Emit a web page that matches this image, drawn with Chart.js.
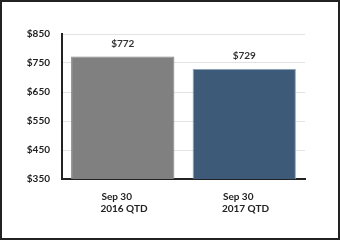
<!DOCTYPE html>
<html>
<head>
<meta charset="utf-8">
<script src="https://cdn.jsdelivr.net/npm/chart.js@4"></script>
<style>
  html, body { margin: 0; padding: 0; background: #fff; }
  #wrap { width: 340px; height: 240px; box-sizing: border-box; border: 2px solid #222; }
</style>
</head>
<body>
<div id="wrap"><canvas id="chart" width="336" height="236"></canvas></div>
<script>
const categories = [["Sep 30     ", " 2016 QTD"], ["Sep 30     ", " 2017 QTD"]];
const values = [772, 729];
const barColors = ["#808080", "#3d5a78"];
const borderColors = ["#808080", "#8aa2b8"];
const yTicks = [350, 450, 550, 650, 750, 850];

const valueLabels = {
  id: "valueLabels",
  afterDatasetsDraw(chart) {
    const { ctx } = chart;
    const meta = chart.getDatasetMeta(0);
    ctx.save();
    ctx.font = "bold 10px Lato";
    ctx.fillStyle = "#333";
    ctx.textAlign = "center";
    ctx.textBaseline = "middle";
    meta.data.forEach((bar, i) => {
      ctx.fillText("$" + values[i], bar.x, bar.y - 13);
    });
    ctx.restore();
  },
};

new Chart("chart", {
  type: "bar",
  data: {
    labels: categories,
    datasets: [
      {
        data: values,
        backgroundColor: barColors,
        borderColor: borderColors,
        borderWidth: 1,
        barPercentage: 0.85,
        categoryPercentage: 1,
      },
    ],
  },
  options: {
    responsive: false,
    animation: false,
    layout: { padding: { top: 32, right: 33, left: 0, bottom: 0 } },
    plugins: { legend: { display: false }, tooltip: { enabled: false } },
    scales: {
      x: {
        grid: { display: false, drawTicks: false },
        border: { color: "#222", width: 2 },
        ticks: {
          padding: 12,
          color: "#222",
          font: { family: "Lato", size: 10, weight: "bold", lineHeight: 1.2 },
          maxRotation: 0,
        },
        afterFit: (s) => { s.height = 59; },
      },
      y: {
        min: 350,
        max: 850,
        afterBuildTicks: (s) => { s.ticks = yTicks.map((v) => ({ value: v })); },
        grid: { color: "#e3e3e3", drawTicks: false },
        border: { color: "#222", width: 2 },
        ticks: {
          padding: 12,
          color: "#222",
          font: { family: "Lato", size: 10, weight: "bold" },
          callback: (v) => "$" + v,
        },
        afterFit: (s) => { s.width = 60; },
      },
    },
  },
  plugins: [valueLabels],
});
</script>
</body>
</html>
